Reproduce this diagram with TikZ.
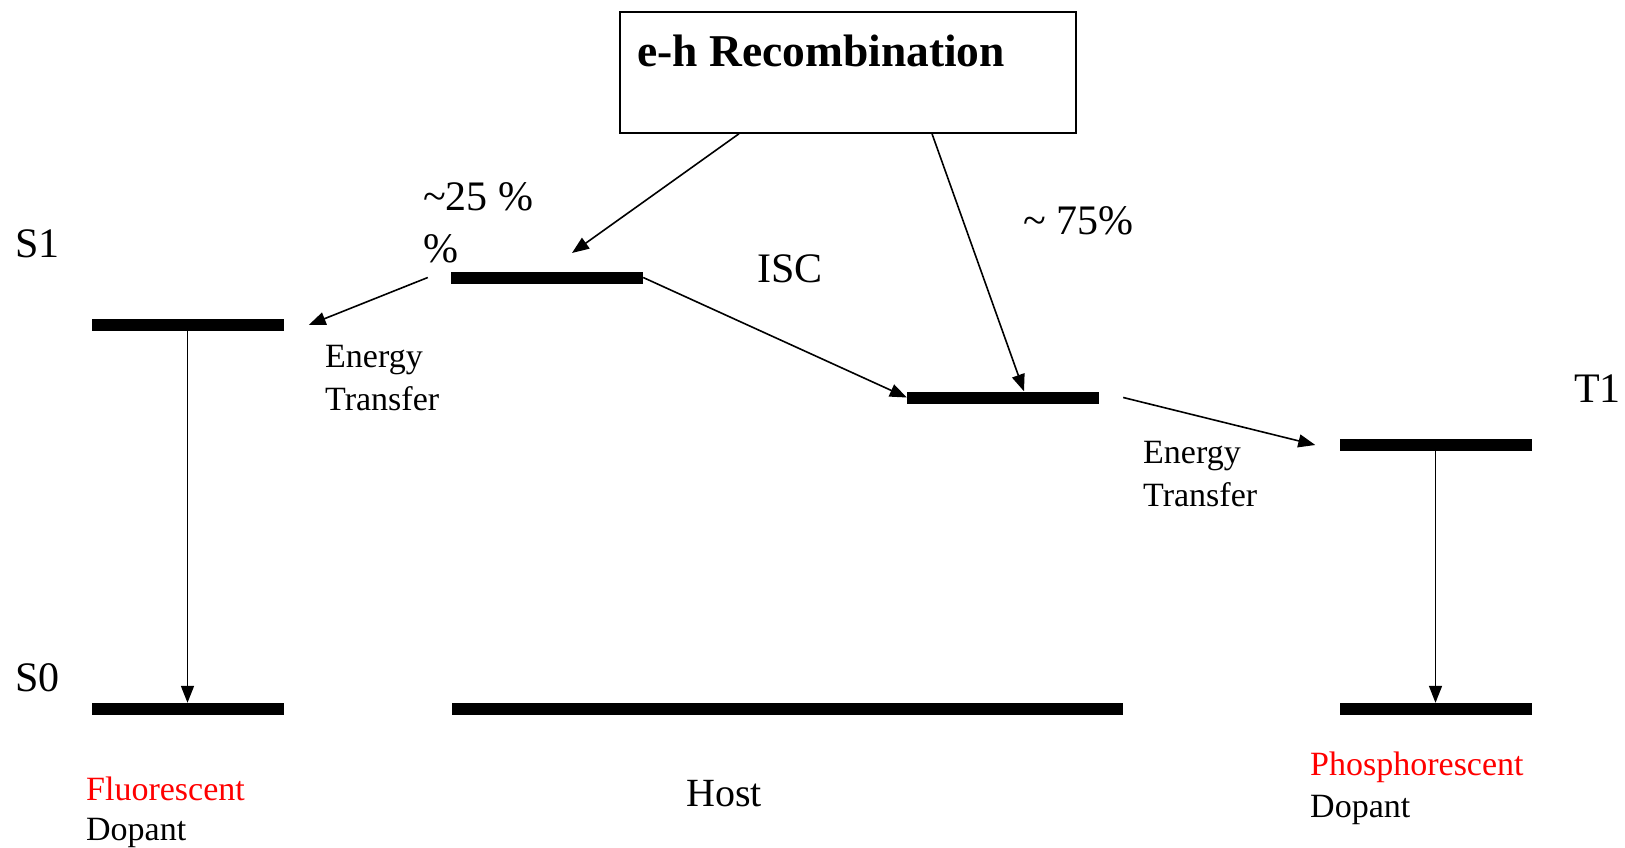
\documentclass[tikz,border=0pt]{standalone}
\usepackage{fontspec}
\setmainfont{Liberation Serif}
\usetikzlibrary{arrows.meta,positioning}

\tikzset{
  level/.style={rectangle, fill=black, inner sep=0pt, minimum height=12pt, minimum width=192pt},
  big/.style={anchor=base west, inner sep=0pt, font=\fontsize{42}{50}\selectfont},
  small/.style={anchor=base west, inner sep=0pt, font=\fontsize{34}{40}\selectfont},
  trans/.style={-{Triangle[length=17pt,width=13pt]}, line width=1.6pt}
}

\begin{document}
\begin{tikzpicture}[x=1pt,y=-1pt]
\useasboundingbox (0,0) rectangle (1625,848);

% energy levels
\node (fs1) at (187.5,325) [level] {};
\node (fs0) at (187.5,709) [level] {};
\node (hs1) at (547,277.5) [level] {};
\node (ht1) at (1003,397.5) [level] {};
\node (hs0) at (787.5,709) [level, minimum width=671pt] {};
\node (pt1) at (1435.5,445) [level] {};
\node (ps0) at (1435.5,709) [level] {};

% recombination box
\node (rec) at (848,72.5) [draw, line width=1.5pt, minimum width=456pt, minimum height=121pt] {};
\node (rectxt) at (637,67) [anchor=base west, inner sep=0pt, font=\fontsize{45.5}{54}\selectfont\bfseries] {e-h Recombination};

% labels
\node (s1) at (15,257) [big] {S1};
\node (s0) at (15,691) [big] {S0};
\node (t1) at (1574,402) [big] {T1};
\node (isc) at (757,282) [big] {ISC};
\node (p25) at (423,210) [big] {\textasciitilde25 \%};
\node (p25b) at (423,262) [big] {\%};
\node (p75) at (1023,234) [big] {\textasciitilde{} 75\%};
\node (host) at (686,806) [big, font=\fontsize{40}{48}\selectfont] {Host};

\node (et1a) at (325,367) [small] {Energy};
\node (et1b) at (325,410) [small] {Transfer};
\node (et2a) at (1143,463) [small] {Energy};
\node (et2b) at (1143,506) [small] {Transfer};
\node (fl) at (86,800) [small, text=red] {Fluorescent};
\node (fld) at (86,840) [small] {Dopant};
\node (ph) at (1310,775) [small, text=red] {Phosphorescent};
\node (phd) at (1310,817) [small] {Dopant};

% transitions
\coordinate (s1tip) at (572,253);
\draw[trans] ([xshift=-109pt]rec.south) -- (s1tip);
\draw[trans] ([xshift=84pt]rec.south) -- ([xshift=21pt]ht1.north);
\draw[trans] (hs1.east) -- (ht1.west);
\draw[trans] ([xshift=-23pt]hs1.west) -- ([xshift=25pt]fs1.east);
\draw[trans] ([xshift=24pt]ht1.east) -- ([xshift=-24pt]pt1.west);
\draw[trans] (fs1.south) -- (fs0.north);
\draw[trans] (pt1.south) -- (ps0.north);
\end{tikzpicture}
\end{document}
